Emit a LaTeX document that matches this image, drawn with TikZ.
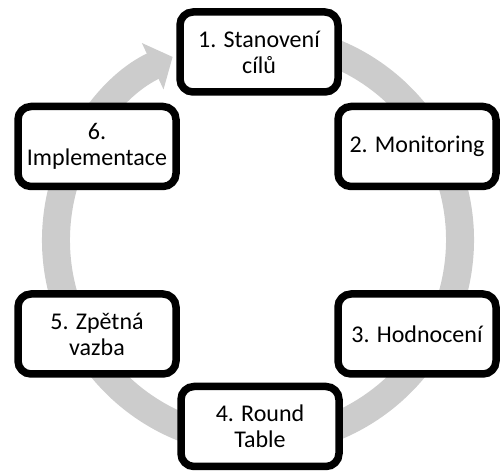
\documentclass[tikz,border=0pt]{standalone}
\usepackage{fontspec}
\setmainfont{Carlito}
\usetikzlibrary{arrows.meta}
\definecolor{sediva}{RGB}{204,204,204}

\begin{document}
\begin{tikzpicture}[x=1pt, y=1pt,
    krok/.style={draw=black, line width=7.5pt, rounded corners=13pt, fill=white,
        minimum width=158pt, minimum height=80pt, align=center,
        font=\fontsize{24}{26}\selectfont},
    cyklus/.style={draw=sediva, line width=28pt, -{Triangle[length=22pt, width=50pt]}}]
\useasboundingbox (0,0) rectangle (501,471);
\coordinate (stred) at (258,231);
\draw[cyklus] (stred) ++(80:202) arc[start angle=80, end angle=-245, radius=202];
\node[krok] (n1) at (259,419) {1. Stanovení\\cílů};
\node[krok] (n2) at (417,324.5) {2. Monitoring};
\node[krok] (n3) at (417,137) {3. Hodnocení};
\node[krok] (n4) at (260,44.5) {4. Round\\Table};
\node[krok] (n5) at (97,137) {5. Zpětná\\vazba};
\node[krok] (n6) at (97,324.5) {6.\\Implementace};
\end{tikzpicture}
\end{document}
